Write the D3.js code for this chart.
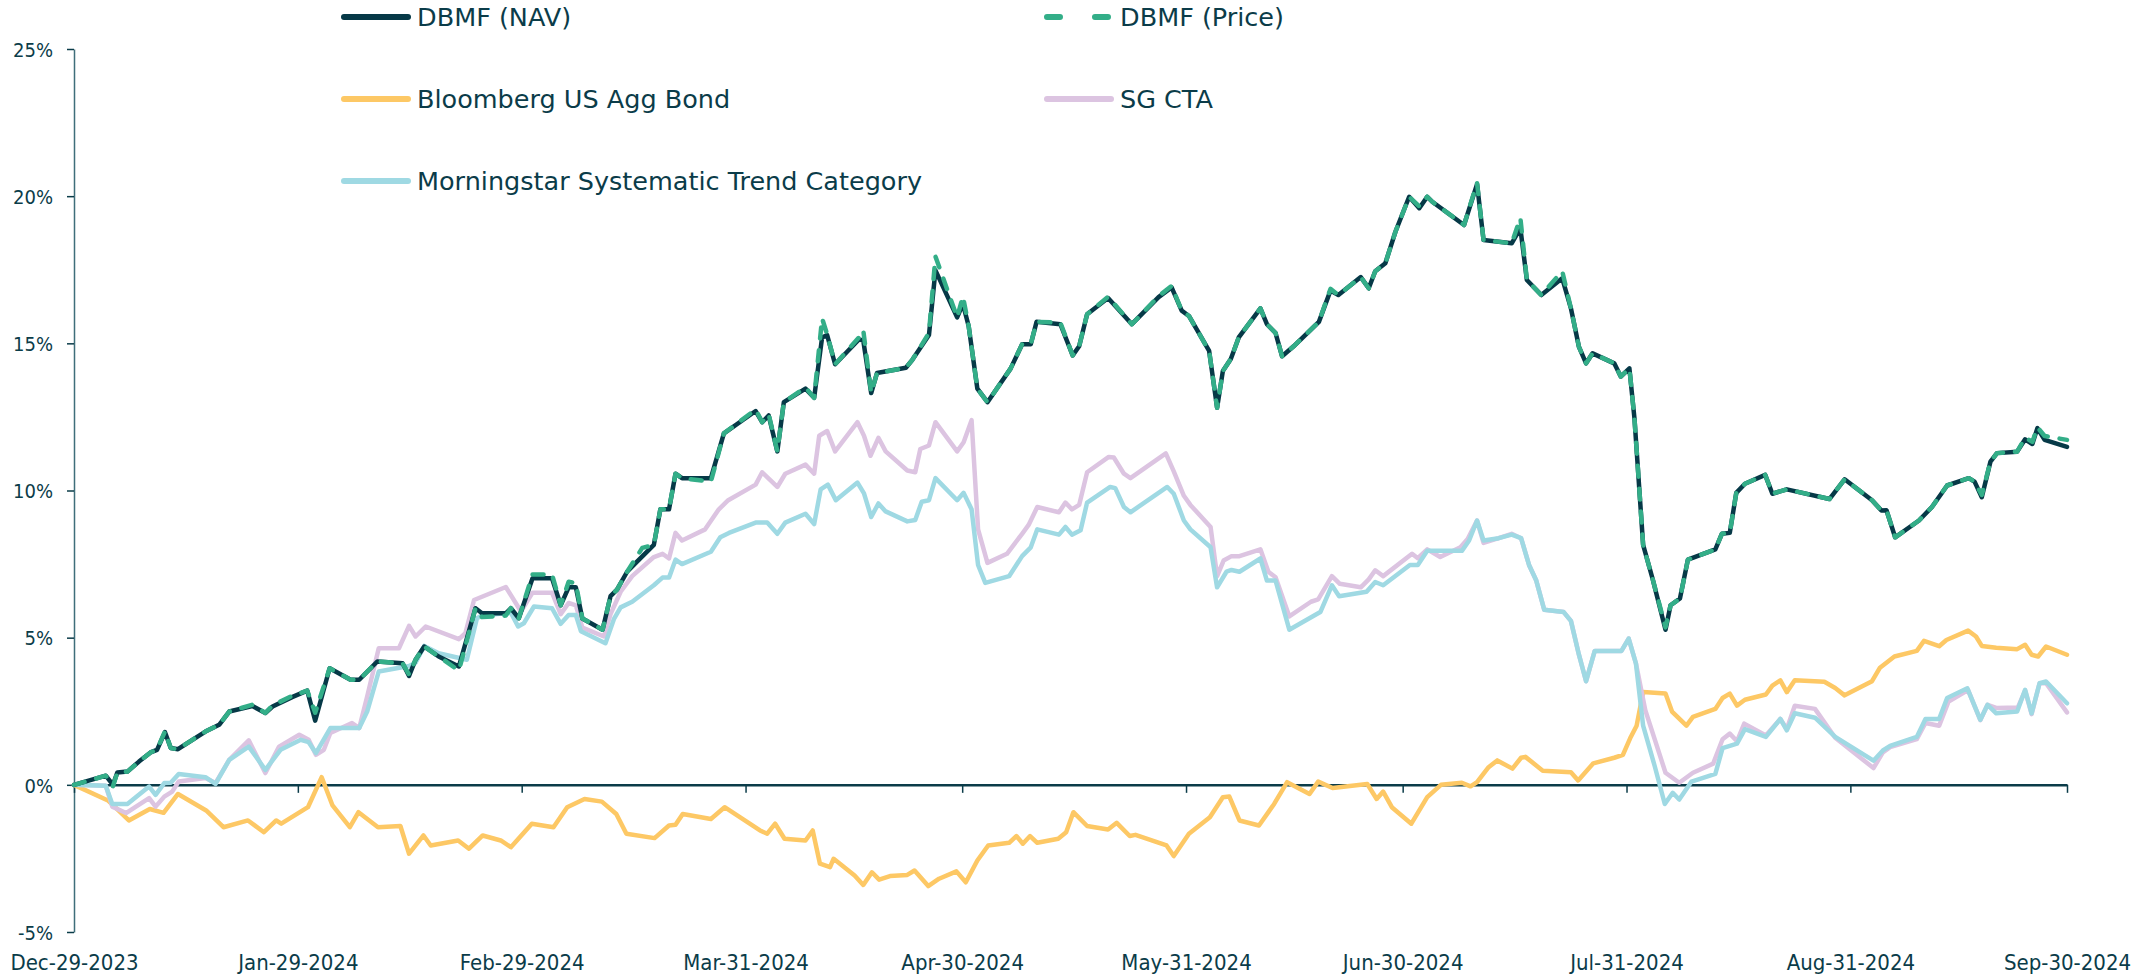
<!DOCTYPE html>
<html>
<head>
<meta charset="utf-8">
<script src="https://cdn.jsdelivr.net/npm/d3@7"></script>
<style>
    body { margin: 0; background: #ffffff; }
    svg text { font-family: "DejaVu Sans Condensed", "DejaVu Sans", sans-serif; font-stretch: condensed; fill: #0b3c49; }
    svg text.legend-label { font-family: "DejaVu Sans", sans-serif; font-stretch: normal; }
</style>
</head>
<body>
<div id="chart"></div>
<script>

// ---- data (days after Dec-29-2023, cumulative return in %) ----
const startDay = "2023-12-29";
const tickDays = ["2023-12-29", "2024-01-29", "2024-02-29", "2024-03-31", "2024-04-30",
    "2024-05-31", "2024-06-30", "2024-07-31", "2024-08-31", "2024-09-30"];
const yTicks = [-5, 0, 5, 10, 15, 20, 25];

const seriesNames = ["DBMF (NAV)", "DBMF (Price)", "Bloomberg US Agg Bond", "SG CTA",
    "Morningstar Systematic Trend Category"];

const dbmfNav = [[0,0],[4.4,0.31],[5.4,0.0],[6.0,0.42],[7.4,0.45],[9.0,0.79],[10.6,1.10],[11.5,1.19],[12.6,1.79],[13.4,1.25],
    [14.4,1.21],[16.4,1.53],[18.2,1.81],[20.1,2.04],[21.5,2.49],[24.7,2.68],[26.5,2.44],[27.5,2.66],[30.2,2.98],[32.3,3.20],
    [33.4,2.18],[35.4,3.96],[38.3,3.57],[39.5,3.57],[42.0,4.19],[45.5,4.13],[46.4,3.70],[47.3,4.25],[48.5,4.70],[50.5,4.36],
    [53.3,4.02],[55.6,6.0],[56.5,5.83],[59.8,5.83],[60.5,6.0],[61.6,5.66],[63.5,7.02],[66.2,7.02],[67.4,6.10],[68.5,6.71],
    [69.5,6.71],[70.4,5.65],[73.2,5.27],[74.3,6.41],[75.2,6.63],[76.6,7.24],[77.8,7.54],[80.3,8.15],[81.2,9.36],[82.4,9.36],
    [83.3,10.57],[84.2,10.42],[88.2,10.42],[90.0,11.94],[94.4,12.70],[95.3,12.32],[96.2,12.55],[97.4,11.33],[98.3,13.0],[101.3,13.46],
    [102.5,13.15],[103.6,15.20],[104.3,15.28],[105.4,14.29],[108.7,15.13],[109.3,15.1],[110.4,13.31],[111.2,13.99],[115.2,14.17],[116.1,14.44],
    [118.4,15.28],[119.3,17.48],[122.3,15.88],[123.1,16.34],[123.9,15.58],[125.1,13.46],[126.5,13.0],[129.7,14.14],[131.3,14.97],[132.5,14.97],
    [133.3,15.73],[136.6,15.65],[138.3,14.59],[139.2,14.90],[140.3,15.99],[143.2,16.54],[146.5,15.65],[150.2,16.57],[152.0,16.90],[153.4,16.11],
    [154.4,15.93],[157.2,14.74],[158.3,12.81],[159.1,14.06],[160.2,14.47],[161.3,15.20],[164.3,16.19],[165.2,15.65],[166.4,15.35],[167.3,14.56],
    [168.9,14.90],[172.4,15.73],[174.0,16.79],[175.1,16.64],[178.2,17.25],[179.3,16.87],[180.2,17.45],[181.6,17.72],[183.0,18.79],[184.9,19.98],
    [186.3,19.59],[187.4,19.98],[188.1,19.81],[192.5,19.02],[194.3,20.41],[195.2,18.51],[199.1,18.40],[200.3,18.91],[201.2,17.15],[203.2,16.64],
    [206.1,17.21],[207.3,16.19],[208.4,14.89],[209.4,14.32],[210.3,14.66],[213.3,14.32],[214.2,13.87],[215.4,14.15],[216.1,12.45],[217.3,8.15],
    [218.6,7.01],[220.4,5.27],[221.1,6.10],[222.4,6.33],[223.5,7.65],[227.3,8.0],[228.2,8.53],[229.3,8.56],[230.2,9.92],[231.4,10.23],
    [234.2,10.53],[235.2,9.89],[237.2,10.04],[243.1,9.71],[245.2,10.38],[249.0,9.67],[250.3,9.32],[251.0,9.33],[252.2,8.41],[255.5,8.98],
    [257.3,9.44],[259.4,10.17],[262.4,10.42],[263.2,10.3],[264.2,9.77],[265.4,10.98],[266.3,11.27],[269.1,11.32],[270.2,11.74],[271.2,11.58],
    [271.9,12.12],[272.9,11.72],[276,11.48]];

const dbmfPrice = [[0,0],[4.4,0.31],[5.4,-0.05],[6.0,0.42],[7.4,0.45],[9.0,0.79],[10.6,1.10],[11.5,1.19],[12.6,1.82],[13.4,1.25],
    [14.4,1.21],[16.4,1.53],[18.2,1.81],[20.1,2.04],[21.5,2.49],[24.7,2.72],[26.5,2.44],[27.5,2.70],[30.2,3.02],[32.3,3.20],
    [33.4,2.45],[35.4,3.96],[38.3,3.57],[39.5,3.57],[42.0,4.19],[45.5,4.13],[46.4,3.75],[47.3,4.25],[48.5,4.70],[50.5,4.36],
    [53.3,3.88],[55.6,6.0],[56.5,5.70],[59.8,5.75],[60.5,6.0],[61.6,5.66],[63.5,7.15],[66.2,7.15],[67.4,6.10],[68.5,6.90],
    [69.5,6.85],[70.4,5.65],[73.2,5.27],[74.3,6.41],[75.2,6.63],[76.6,7.24],[78.7,8.05],[80.3,8.15],[81.2,9.36],[82.4,9.36],
    [83.3,10.57],[84.2,10.42],[88.2,10.30],[90.0,11.94],[94.4,12.75],[95.3,12.32],[96.2,12.60],[97.4,11.33],[98.3,13.0],[101.3,13.50],
    [102.5,13.15],[103.6,15.85],[104.3,15.30],[105.4,14.29],[108.7,15.20],[109.3,15.45],[110.4,13.31],[111.2,13.99],[115.2,14.17],[116.1,14.44],
    [118.4,15.35],[119.3,17.95],[122.3,15.88],[123.1,16.60],[123.9,15.58],[125.1,13.46],[126.5,13.0],[129.7,14.14],[131.3,14.97],[132.5,14.97],
    [133.3,15.73],[136.6,15.70],[138.3,14.59],[139.2,14.90],[140.3,15.99],[143.2,16.58],[146.5,15.65],[150.2,16.60],[152.0,16.95],[153.4,16.11],
    [154.4,15.93],[157.2,14.74],[158.3,12.81],[159.1,14.06],[160.2,14.47],[161.3,15.20],[164.3,16.19],[165.2,15.65],[166.4,15.35],[167.3,14.56],
    [168.9,14.90],[172.4,15.73],[174.0,16.85],[175.1,16.64],[178.2,17.25],[179.3,16.87],[180.2,17.45],[181.6,17.72],[183.0,18.79],[184.9,19.98],
    [186.3,19.65],[187.4,19.98],[188.1,19.81],[192.5,19.02],[194.3,20.45],[195.2,18.51],[199.1,18.40],[200.3,19.26],[201.2,17.15],[203.2,16.64],
    [206.1,17.45],[207.3,16.19],[208.4,14.89],[209.4,14.32],[210.3,14.66],[213.3,14.32],[214.2,13.87],[215.4,14.15],[216.1,12.45],[217.3,8.15],
    [218.6,7.01],[220.4,5.35],[221.1,6.10],[222.4,6.33],[223.5,7.65],[227.3,8.0],[228.2,8.53],[229.3,8.56],[230.2,9.92],[231.4,10.23],
    [234.2,10.53],[235.2,9.89],[237.2,10.04],[243.1,9.71],[245.2,10.38],[249.0,9.67],[250.3,9.32],[251.0,9.33],[252.2,8.41],[255.5,8.98],
    [257.3,9.44],[259.4,10.17],[262.4,10.42],[263.2,10.3],[264.2,9.85],[265.4,10.98],[266.3,11.27],[269.1,11.32],[270.2,11.80],[271.2,11.65],
    [271.9,12.15],[272.9,11.85],[276,11.72]];

const aggBond = [[0,0],[4.7,-0.53],[7.6,-1.21],[10.5,-0.82],[12.4,-0.95],[14.4,-0.31],[18.3,-0.87],[20.7,-1.44],[24.1,-1.21],[26.3,-1.61],
    [28.0,-1.21],[28.7,-1.32],[32.4,-0.76],[34.3,0.26],[35.8,-0.70],[38.2,-1.44],[39.4,-0.93],[42.1,-1.44],[45.2,-1.40],[46.4,-2.34],
    [48.4,-1.72],[49.4,-2.06],[53.2,-1.89],[54.7,-2.17],[56.6,-1.72],[59.1,-1.89],[60.5,-2.12],[63.4,-1.32],[66.4,-1.44],[68.3,-0.76],
    [70.7,-0.48],[73.1,-0.57],[75.1,-0.99],[76.5,-1.66],[80.4,-1.81],[82.4,-1.38],[83.3,-1.36],[84.3,-0.99],[88.2,-1.16],[90.1,-0.76],
    [95.0,-1.55],[96.0,-1.66],[97.1,-1.32],[98.4,-1.83],[101.3,-1.89],[102.3,-1.55],[103.3,-2.68],[104.7,-2.80],[105.2,-2.51],[108.1,-3.08],
    [109.3,-3.40],[110.5,-2.97],[111.5,-3.22],[113.0,-3.10],[115.4,-3.06],[116.4,-2.91],[118.3,-3.44],[119.8,-3.19],[122.2,-2.94],[123.5,-3.31],
    [125.1,-2.57],[126.6,-2.06],[129.5,-1.97],[130.5,-1.74],[131.4,-2.0],[132.4,-1.74],[133.4,-1.97],[136.3,-1.83],[137.4,-1.61],[138.4,-0.93],
    [140.3,-1.40],[143.2,-1.52],[144.4,-1.29],[146.2,-1.74],[147.0,-1.70],[151.3,-2.06],[152.3,-2.42],[154.4,-1.66],[157.3,-1.10],[159.1,-0.42],
    [160.0,-0.40],[161.4,-1.21],[164.1,-1.38],[166.2,-0.65],[168.0,0.09],[171.1,-0.31],[172.3,0.11],[174.3,-0.11],[179.1,0.03],[180.4,-0.48],
    [181.3,-0.23],[182.5,-0.76],[185.2,-1.32],[187.4,-0.42],[189.3,0],[192.2,0.07],[193.4,-0.05],[194.3,0.09],[195.9,0.60],[197.1,0.83],
    [199.2,0.55],[200.4,0.92],[201.0,0.95],[203.4,0.48],[207.3,0.43],[208.3,0.15],[210.4,0.73],[213.3,0.92],[214.5,1.02],[215.5,1.58],
    [216.4,2.01],[217.3,3.15],[220.4,3.10],[221.3,2.49],[223.3,2.01],[224.2,2.31],[227.3,2.58],[228.3,2.95],[229.3,3.10],[230.3,2.69],
    [231.4,2.89],[234.3,3.07],[235.2,3.37],[236.3,3.55],[237.2,3.15],[238.3,3.55],[242.4,3.50],[243.9,3.29],[245.2,3.04],[249.0,3.52],
    [250.1,3.98],[252.1,4.36],[255.2,4.55],[256.2,4.89],[258.3,4.71],[259.3,4.92],[262.3,5.24],[263.4,5.04],[264.2,4.72],[266.2,4.66],
    [269.1,4.61],[270.2,4.76],[271.1,4.42],[272.0,4.36],[273.1,4.70],[276,4.42]];

const sgCta = [[0,0],[4.4,-0.03],[5.3,-0.74],[7.2,-0.96],[10.4,-0.45],[11.3,-0.74],[12.5,-0.40],[13.6,-0.23],[14.5,0.11],[18.2,0.23],
    [19.6,0.06],[21.5,0.85],[24.2,1.51],[26.5,0.40],[28.4,1.30],[31.2,1.70],[32.5,1.53],[33.5,1.02],[34.6,1.19],[35.5,1.76],
    [38.5,2.10],[39.5,1.93],[40.6,3.0],[42.2,4.64],[45.0,4.64],[46.4,5.40],[47.3,5.04],[48.7,5.38],[53.3,4.95],[54.2,5.15],
    [55.4,6.28],[59.8,6.72],[61.9,5.89],[63.5,6.53],[66.2,6.53],[67.4,5.80],[68.5,6.18],[69.5,6.1],[70.4,5.34],[73.4,5.04],
    [74.3,5.80],[75.7,6.56],[77.3,7.09],[80.3,7.74],[81.5,7.85],[82.4,7.69],[83.3,8.56],[84.2,8.30],[87.4,8.68],[89.3,9.36],
    [90.6,9.67],[94.4,10.20],[95.3,10.62],[97.4,10.12],[98.5,10.57],[101.3,10.88],[102.5,10.57],[103.2,11.86],[104.3,12.02],[105.4,11.33],
    [108.5,12.32],[109.4,11.86],[110.3,11.18],[111.4,11.79],[112.4,11.33],[115.4,10.68],[116.5,10.62],[117.2,11.41],[118.4,11.53],[119.3,12.32],
    [122.3,11.33],[123.2,11.64],[124.3,12.39],[125.2,8.68],[126.5,7.54],[129.2,7.85],[131.3,8.53],[132.2,8.83],[133.4,9.44],[136.4,9.26],
    [137.3,9.59],[138.2,9.36],[139.2,9.51],[140.3,10.62],[143.3,11.14],[144.0,11.12],[145.4,10.57],[146.3,10.42],[151.2,11.26],[152.3,10.65],
    [153.7,9.82],[154.6,9.51],[157.4,8.76],[158.3,7.09],[159.2,7.62],[160.3,7.77],[161.4,7.77],[164.3,8.0],[165.4,7.24],[166.4,7.05],
    [168.3,5.72],[171.3,6.22],[172.3,6.3],[174.2,7.09],[175.3,6.83],[178.2,6.71],[179.3,6.98],[180.2,7.29],[181.3,7.09],[185.3,7.85],
    [186.1,7.7],[187.4,8.0],[189.2,7.74],[192.0,8.07],[193.0,8.35],[194.3,8.98],[195.2,8.22],[197.3,8.38],[199.1,8.53],[200.4,8.38],
    [201.5,7.47],[202.5,6.94],[203.6,5.95],[206.3,5.87],[207.3,5.57],[208.4,4.43],[209.4,3.52],[210.6,4.55],[214.3,4.55],[215.3,4.97],
    [216.3,4.13],[217.6,2.54],[220.4,0.41],[222.3,0.07],[224.2,0.41],[227.0,0.72],[228.3,1.55],[229.3,1.74],[230.3,1.48],[231.3,2.08],
    [234.3,1.68],[236.3,2.24],[237.2,1.9],[238.3,2.69],[241.1,2.58],[243.9,1.6],[249.2,0.57],[250.5,1.1],[251.5,1.28],[255.2,1.55],
    [256.4,2.1],[258.3,2.01],[259.6,2.83],[262.3,3.22],[264.0,2.2],[265.0,2.72],[266.3,2.61],[269.2,2.63],[270.2,3.2],[271.1,2.4],
    [272.2,3.45],[273.1,3.45],[276,2.46]];

const msTrend = [[0,0],[4.4,-0.03],[5.3,-0.65],[7.4,-0.65],[10.4,-0.06],[11.3,-0.34],[12.5,0.06],[13.4,0.07],[14.5,0.37],[18.2,0.26],
    [19.6,0.03],[21.5,0.85],[24.2,1.30],[26.5,0.51],[28.6,1.19],[31.4,1.53],[32.5,1.45],[33.5,1.08],[35.5,1.93],[38.2,1.93],
    [39.5,1.93],[40.6,2.49],[42.2,3.85],[46.4,4.04],[47.3,4.15],[48.5,4.72],[50.5,4.47],[54.4,4.25],[55.8,5.66],[56.5,5.75],
    [60.5,5.85],[61.5,5.38],[62.3,5.49],[63.7,6.06],[66.2,6.0],[67.4,5.47],[68.5,5.77],[69.5,5.77],[70.2,5.22],[73.6,4.81],
    [74.8,5.65],[75.7,6.03],[77.3,6.22],[80.3,6.78],[81.5,7.04],[82.4,7.04],[83.3,7.65],[84.2,7.50],[88.2,7.92],[89.5,8.41],
    [90.7,8.56],[94.4,8.91],[96.0,8.91],[97.4,8.53],[98.5,8.91],[101.3,9.21],[102.5,8.86],[103.4,10.04],[104.4,10.20],[105.5,9.67],
    [108.5,10.27],[109.4,9.9],[110.4,9.10],[111.4,9.56],[112.4,9.29],[115.4,8.95],[116.5,9.0],[117.4,9.62],[118.4,9.67],[119.3,10.42],
    [122.3,9.67],[123.2,9.92],[124.3,9.36],[125.2,7.47],[126.2,6.86],[129.5,7.09],[131.3,7.77],[132.5,8.07],[133.4,8.68],[136.4,8.50],
    [137.3,8.76],[138.2,8.50],[139.4,8.65],[140.3,9.59],[143.5,10.12],[144.2,10.08],[145.4,9.44],[146.3,9.26],[151.4,10.12],[152.3,9.89],
    [153.7,8.98],[154.6,8.68],[157.4,8.07],[158.3,6.71],[159.6,7.24],[160.3,7.3],[161.4,7.24],[164.3,7.69],[165.2,6.94],[166.4,6.94],
    [168.3,5.27],[172.6,5.87],[174.2,6.78],[175.2,6.41],[179.0,6.56],[180.2,6.89],[181.3,6.78],[185.0,7.47],[186.1,7.47],[187.4,7.95],
    [192.2,7.95],[193.2,8.3],[194.3,8.98],[195.2,8.30],[197.3,8.38],[199.1,8.50],[200.4,8.38],[201.5,7.47],[202.5,6.94],[203.6,5.95],
    [206.3,5.87],[207.3,5.57],[208.4,4.43],[209.4,3.52],[210.6,4.55],[214.3,4.55],[215.3,4.97],[216.3,4.13],[217.3,2.01],[218.9,0.64],
    [220.3,-0.65],[221.4,-0.27],[222.3,-0.50],[224.0,0.11],[227.3,0.37],[228.3,1.25],[230.3,1.40],[231.4,1.89],[234.3,1.63],[236.3,2.24],
    [237.2,1.85],[238.3,2.43],[241.1,2.28],[243.9,1.63],[249.2,0.82],[250.5,1.17],[251.5,1.32],[255.2,1.63],[256.4,2.24],[258.3,2.24],
    [259.4,2.95],[262.2,3.28],[264.0,2.21],[265.0,2.72],[266.2,2.43],[269.1,2.49],[270.2,3.23],[271.1,2.43],[272.2,3.45],[273.1,3.51],
    [276,2.77]];


// ---- chart ----
const width = 2148, height = 977;
const margin = {top: 49, right: 81, bottom: 45, left: 74};

const parseDay = d3.timeParse("%Y-%m-%d");
const formatDay = d3.timeFormat("%b-%d-%Y");
const start = parseDay(startDay);
const toDate = d => new Date(start.getTime() + d * 864e5);

const svg = d3.select("#chart").append("svg")
    .attr("width", width)
    .attr("height", height);

const x = d3.scaleTime()
    .domain([start, parseDay(tickDays[tickDays.length - 1])])
    .range([margin.left, width - margin.right]);

const y = d3.scaleLinear()
    .domain([-5, 25])
    .range([height - margin.bottom, margin.top]);

const axisColor = "#0b3c49";

// y axis
const yAxis = svg.append("g")
    .attr("transform", `translate(${margin.left},0)`)
    .call(d3.axisLeft(y).tickValues(yTicks).tickSize(7).tickSizeOuter(0).tickPadding(14).tickFormat(d => d + "%"));
yAxis.select(".domain").attr("stroke", "#3f6e7a").attr("stroke-width", 1.5);
yAxis.selectAll(".tick line").attr("stroke", axisColor).attr("stroke-width", 1.5);
yAxis.selectAll(".tick text").attr("font-size", 20).attr("dy", "0.36em");

// zero line with the month ticks
const zeroAxis = svg.append("g")
    .attr("transform", `translate(0,${y(0)})`)
    .call(d3.axisBottom(x).tickValues(tickDays.map(parseDay)).tickSize(8).tickSizeOuter(0).tickFormat(""));
zeroAxis.select(".domain").attr("stroke", axisColor).attr("stroke-width", 2.5);
zeroAxis.selectAll(".tick line").attr("stroke", axisColor).attr("stroke-width", 1.5);

// month labels along the bottom
const xLabels = svg.append("g")
    .attr("transform", `translate(0,${y(-5)})`)
    .call(d3.axisBottom(x).tickValues(tickDays.map(parseDay)).tickSize(0).tickFormat(formatDay));
xLabels.select(".domain").remove();
xLabels.selectAll(".tick text").attr("font-size", 22).attr("y", 38).attr("dy", 0);
svg.selectAll(".tick text").attr("fill", axisColor).attr("font-family", null);

const line = d3.line()
    .x(d => x(toDate(d[0])))
    .y(d => y(d[1]));

const series = [
    {name: seriesNames[2], data: aggBond, color: "#fdc865", dash: null, col: 0, row: 1},
    {name: seriesNames[3], data: sgCta, color: "#dcc4e1", dash: null, col: 1, row: 1},
    {name: seriesNames[4], data: msTrend, color: "#9fd9e3", dash: null, col: 0, row: 2},
    {name: seriesNames[0], data: dbmfNav, color: "#063947", dash: null, col: 0, row: 0},
    {name: seriesNames[1], data: dbmfPrice, color: "#33ae88", dash: "11,12", col: 1, row: 0}
];

svg.append("g")
    .selectAll("path")
    .data(series)
    .join("path")
    .attr("d", d => line(d.data))
    .attr("fill", "none")
    .attr("stroke", d => d.color)
    .attr("stroke-width", 4.5)
    .attr("stroke-linejoin", "round")
    .attr("stroke-linecap", "round")
    .attr("stroke-dasharray", d => d.dash);

// legend
const legendCols = [344, 1047];
const legendRows = [17, 99, 181];

const legend = svg.append("g")
    .selectAll("g")
    .data(series)
    .join("g")
    .attr("transform", d => `translate(${legendCols[d.col]},${legendRows[d.row]})`);

legend.append("line")
    .attr("x1", 0)
    .attr("x2", d => d.dash ? 61 : 64)
    .attr("stroke", d => d.color)
    .attr("stroke-width", 6)
    .attr("stroke-linecap", "round")
    .attr("stroke-dasharray", d => d.dash ? "13,35" : null);

legend.append("text")
    .attr("class", "legend-label")
    .attr("x", 73)
    .attr("y", 9)
    .attr("font-size", 25.5)
    .text(d => d.name);

</script>
</body>
</html>
